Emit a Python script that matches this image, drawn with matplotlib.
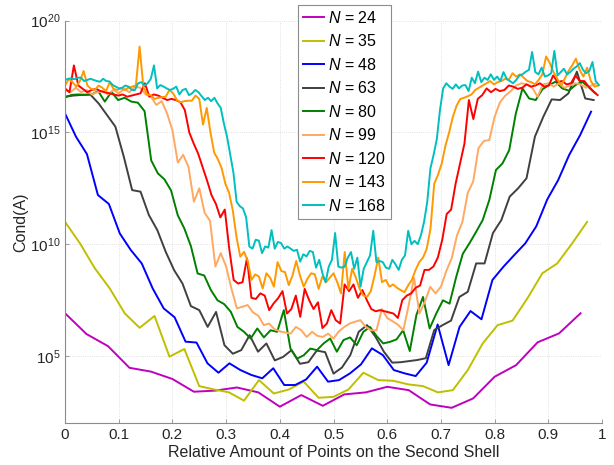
import numpy as np
import matplotlib
matplotlib.use('Agg')
import matplotlib.pyplot as plt
from matplotlib.ticker import FixedLocator, NullLocator, LogFormatterSciNotation

plt.rcParams['font.family'] = ['Liberation Sans', 'DejaVu Sans']
plt.rcParams['mathtext.fontset'] = 'custom'
plt.rcParams['mathtext.rm'] = 'Liberation Sans'
plt.rcParams['mathtext.it'] = 'Liberation Sans:italic'

# log10(Cond(A)), one list per N, N+1 samples at x = k/(N+1)
N_VALUES = [24, 35, 48, 63, 80, 99, 120, 143, 168]

log_cond_24 = [6.91, 5.98, 5.44, 4.47, 4.30, 3.97, 3.40, 3.45, 3.59, 3.37, 2.73, 3.25, 2.77,
               3.28, 3.37, 3.62, 3.47, 2.83, 2.68, 3.10, 4.07, 4.59, 5.61, 6.01, 6.91]

log_cond_35 = [11.0, 10.04, 8.92, 8.02, 6.91, 6.26, 6.79, 4.97, 5.31, 3.65, 3.50, 3.37, 3.00,
               3.92, 3.32, 3.50, 3.85, 3.13, 3.17, 3.50, 4.25, 3.92, 3.89, 3.73, 3.65, 3.37,
               3.47, 4.37, 5.56, 6.38, 6.58, 7.58, 8.70, 9.14, 10.04, 11.0]

log_cond_48 = [15.85, 14.81, 14.03, 12.2, 11.8, 10.48, 9.74, 9.14, 8.02, 7.13,
               6.73, 5.64, 5.60, 4.67, 4.25, 4.67, 4.37, 4.15, 4.00, 4.45,
               3.70, 3.70, 3.95, 4.52, 3.85, 3.92, 4.22, 4.62, 5.34, 5.04,
               4.37, 4.22, 4.10, 4.70, 6.41, 4.59, 6.30, 7.01, 6.64, 8.40,
               8.99, 9.52, 10.04, 10.8, 12.0, 12.87, 13.99, 14.88, 15.93]

log_cond_63 = [16.6, 16.65, 16.68, 16.7, 16.3, 15.78, 15.26, 13.92, 12.42, 12.35,
               11.3, 10.63, 9.66, 8.84, 8.24, 7.23, 7.05, 6.3, 6.97, 5.48,
               5.1, 5.26, 5.93, 5.19, 5.56, 4.8, 4.96, 5.26, 4.65, 4.72,
               5.24, 5.17, 4.21, 4.48, 5.04, 6.08, 6.38, 5.86, 5.19, 4.7,
               4.72, 4.77, 4.82, 4.9, 6.16, 6.38, 6.58, 7.64, 7.87, 9.14,
               9.14, 10.5, 11.08, 12.13, 12.5, 12.95, 14.81, 15.7, 16.48, 16.45,
               16.75, 17.72, 16.52, 16.45]

log_cond_80 = [16.57, 16.68, 16.7, 16.68, 16.7, 16.85, 16.38, 16.82, 16.45, 16.55,
               16.38, 16.33, 15.95, 13.75, 13.17, 12.9, 12.4, 11.3, 10.7, 9.9,
               8.69, 8.6, 7.95, 7.49, 7.32, 6.98, 6.3, 6.08, 5.78, 6.23,
               5.83, 6.15, 6.08, 7.05, 5.33, 4.88, 5.03, 5.33, 5.26, 5.56,
               5.78, 5.19, 5.71, 5.83, 5.48, 6.08, 6.3, 5.89, 5.56, 5.63,
               5.74, 6.15, 5.22, 6.83, 7.64, 6.23, 6.9, 7.49, 7.34, 8.53,
               9.57, 10.04, 10.55, 11.08, 11.98, 13.32, 13.62, 14.21, 15.85, 16.97,
               16.52, 16.45, 16.93, 17.12, 17.27, 16.97, 16.87, 17.12, 17.27, 17.02,
               16.75]

log_cond_99 = [16.9, 16.8, 17.0, 16.8, 16.9, 16.7, 16.8, 16.85, 16.7, 16.9,
               16.75, 16.95, 16.8, 17.05, 17.0, 16.7, 16.6, 16.23, 16.4, 15.85,
               15.1, 13.65, 14.0, 13.45, 11.9, 12.5, 11.4, 11.05, 9.0, 9.6,
               9.0, 8.0, 7.13, 7.2, 7.28, 6.95, 6.8, 6.38, 6.45, 6.2,
               6.1, 6.05, 6.0, 6.3, 6.15, 5.85, 6.08, 5.9, 5.85, 6.0,
               5.78, 6.1, 6.3, 6.45, 6.53, 6.6, 6.3, 6.15, 6.15, 7.1,
               6.7, 6.55, 6.4, 6.15, 7.28, 8.5, 6.9, 7.42, 8.09, 7.8,
               8.1, 8.8, 9.37, 10.4, 11.0, 12.3, 12.8, 14.3, 14.62, 14.66,
               15.7, 16.35, 16.65, 16.85, 17.1, 17.2, 17.15, 17.0, 16.6, 17.15,
               17.2, 17.05, 17.2, 17.0, 17.1, 17.2, 17.15, 17.0, 17.1, 17.2]

log_cond_120 = [16.97, 16.8, 18.0, 17.1, 16.95, 16.8, 16.9, 16.95, 16.85, 16.8,
                16.75, 16.7, 16.65, 16.7, 16.6, 16.65, 16.7, 16.75, 17.2, 16.6,
                16.7, 16.65, 16.55, 16.45, 16.5, 16.45, 16.35, 16.0, 15.0, 14.5,
                14.05, 13.45, 12.85, 12.2, 11.8, 11.2, 11.55, 9.8, 8.4, 8.24,
                8.3, 9.37, 7.6, 7.55, 7.8, 7.7, 7.05, 7.35, 7.58, 7.9,
                6.9, 7.1, 7.7, 6.75, 8.0, 7.5, 7.1, 7.4, 6.25, 6.45,
                7.05, 6.6, 6.45, 8.2, 7.9, 8.2, 7.6, 7.95, 7.5, 7.1,
                7.0, 7.05, 7.0, 6.95, 6.9, 6.7, 7.5, 7.7, 7.8, 8.05,
                8.15, 8.85, 8.85, 9.0, 9.4, 10.2, 11.35, 11.55, 12.7, 13.6,
                14.5, 16.45, 15.6, 16.5, 16.67, 16.97, 16.8, 16.95, 16.85, 16.9,
                17.1, 17.05, 16.95, 17.0, 17.15, 17.05, 17.1, 17.2, 17.05, 17.1,
                17.55, 17.25, 17.3, 17.15, 17.2, 17.55, 17.3, 17.3, 17.05, 16.85,
                16.67]

log_cond_143 = [17.1, 17.4, 17.25, 17.05, 17.3, 17.75, 17.1, 16.95, 16.9, 17.1,
                17.0, 16.85, 17.25, 16.95, 16.9, 16.97, 16.9, 17.0, 17.05, 17.1,
                18.84, 17.05, 16.7, 16.67, 16.5, 16.55, 16.58, 16.6, 16.9, 16.75,
                16.45, 16.35, 16.4, 16.42, 16.42, 16.65, 16.5, 15.35, 16.1, 15.0,
                14.1, 13.8, 13.4, 12.7, 12.3, 11.5, 10.3, 9.44, 9.66, 9.25,
                8.4, 8.65, 8.55, 8.02, 8.7, 8.5, 8.1, 9.2, 8.8, 8.75,
                8.17, 8.6, 9.25, 8.6, 8.1, 8.45, 8.7, 8.65, 8.0, 8.55,
                8.3, 8.5, 8.7, 8.3, 7.8, 9.65, 8.0, 8.9, 8.5, 8.0,
                7.7, 7.65, 7.9, 8.6, 9.4, 8.3, 8.4, 8.1, 8.2, 8.05,
                7.95, 7.85, 8.15, 8.4, 8.85, 9.2, 9.4, 9.8, 10.7, 12.7,
                13.1, 13.6, 14.4, 15.0, 15.7, 16.2, 16.5, 16.55, 16.62, 16.7,
                16.9, 17.0, 17.1, 17.2, 17.3, 17.15, 17.25, 17.3, 17.4, 17.35,
                17.65, 17.5, 17.6, 17.45, 17.3, 17.25, 17.15, 17.35, 17.6, 18.4,
                18.1, 17.7, 17.4, 17.1, 17.4, 17.75, 18.0, 18.3, 17.8, 17.5,
                17.9, 17.3, 17.05, 17.1]

log_cond_168 = [17.35, 17.4, 17.42, 17.38, 17.45, 17.45, 17.3, 17.35, 17.4, 17.35,
                17.3, 17.27, 17.4, 17.3, 17.28, 17.12, 17.05, 16.97, 17.0, 17.1,
                17.05, 16.9, 16.9, 17.2, 17.25, 17.1, 17.2, 17.4, 18.0, 16.97,
                17.12, 17.05, 16.97, 16.9, 16.95, 17.05, 16.7, 16.9, 16.95, 16.67,
                16.75, 16.9, 16.8, 16.62, 16.45, 16.55, 16.4, 16.55, 16.3, 16.1,
                15.4, 14.8, 14.0, 13.2, 11.9, 11.7, 11.6, 11.2, 9.9, 9.8,
                10.2, 10.16, 9.6, 9.9, 9.85, 10.63, 9.8, 10.1, 10.05, 9.8,
                9.9, 9.8, 9.7, 9.75, 9.22, 9.55, 9.45, 9.7, 9.65, 8.95,
                9.3, 8.7, 8.3, 9.0, 9.3, 10.5, 9.0, 8.95, 9.0, 9.4,
                9.65, 8.9, 9.4, 8.1, 8.9, 9.2, 9.5, 10.6, 9.2, 9.25,
                9.2, 8.95, 8.9, 9.3, 9.1, 8.85, 9.3, 9.5, 10.6, 10.0,
                10.15, 10.0, 10.4, 11.0, 11.9, 13.4, 14.0, 14.7, 16.0, 16.97,
                17.2, 17.05, 16.95, 17.15, 16.97, 17.1, 17.12, 16.85, 17.45, 17.2,
                17.72, 17.25, 17.45, 17.35, 17.6, 17.35, 17.5, 17.3, 17.7, 17.4,
                17.3, 17.2, 17.35, 17.55, 17.6, 17.72, 17.8, 18.6, 17.7, 17.6,
                17.9, 17.5, 17.55, 17.65, 18.65, 17.55, 17.7, 17.85, 17.6, 17.7,
                17.85, 17.95, 18.1, 17.8, 17.65, 17.75, 18.15, 17.3, 17.12]

SERIES = [log_cond_24, log_cond_35, log_cond_48, log_cond_63, log_cond_80,
          log_cond_99, log_cond_120, log_cond_143, log_cond_168]

COLORS = ['#bf00bf', '#bfbf00', '#0000ff', '#404040', '#008000',
          '#ffa860', '#ff0000', '#ff9900', '#00bfbf']

X_TICKS = [0, 0.1, 0.2, 0.3, 0.4, 0.5, 0.6, 0.7, 0.8, 0.9, 1]
X_TICK_LABELS = ['0', '0.1', '0.2', '0.3', '0.4', '0.5', '0.6', '0.7', '0.8', '0.9', '1']
Y_TICKS = [1e5, 1e10, 1e15, 1e20]


fig = plt.figure(figsize=(6.14, 4.65), dpi=100)
ax = fig.add_axes([0.1059, 0.0903, 0.8746, 0.8652])

lines = []
for n, vals, col in zip(N_VALUES, SERIES, COLORS):
    x = np.arange(n + 1) / (n + 1)
    y = 10.0 ** np.array(vals)
    ln, = ax.plot(x, y, color=col, lw=1.4, label=r'$N$ = %d' % n)
    lines.append(ln)

ax.set_yscale('log')
ax.set_xlim(0, 1)
ax.set_ylim(1e2, 1e20)
ax.yaxis.set_major_locator(FixedLocator(Y_TICKS))
ax.yaxis.set_minor_locator(NullLocator())
ax.yaxis.set_major_formatter(LogFormatterSciNotation())
ax.set_xticks(X_TICKS)
ax.set_xticklabels(X_TICK_LABELS)

ax.grid(True, color='#d8d8d8', lw=0.6, ls=':')
ax.set_axisbelow(True)
for side in ['top', 'right']:
    ax.spines[side].set_visible(False)
for side in ['left', 'bottom']:
    ax.spines[side].set_color('#8c8c8c')
    ax.spines[side].set_linewidth(0.8)
ax.tick_params(direction='in', length=3, width=0.6, color='#8c8c8c',
               labelsize=11, labelcolor='#262626')

ax.set_xlabel('Relative Amount of Points on the Second Shell', fontsize=11.5,
              color='#262626', labelpad=2)
ax.set_ylabel('Cond(A)', fontsize=11.5, color='#262626', labelpad=1)

leg = ax.legend(handles=lines, loc='upper left', bbox_to_anchor=(0.4853, 0.989),
                bbox_transform=fig.transFigure, fontsize=11.5, fancybox=False,
                framealpha=1, edgecolor='#8c8c8c', labelspacing=0.47,
                handlelength=1.3, handletextpad=0.3, borderpad=0.3,
                borderaxespad=0)
leg.get_frame().set_linewidth(0.8)

fig.savefig('out.png', dpi=100)
